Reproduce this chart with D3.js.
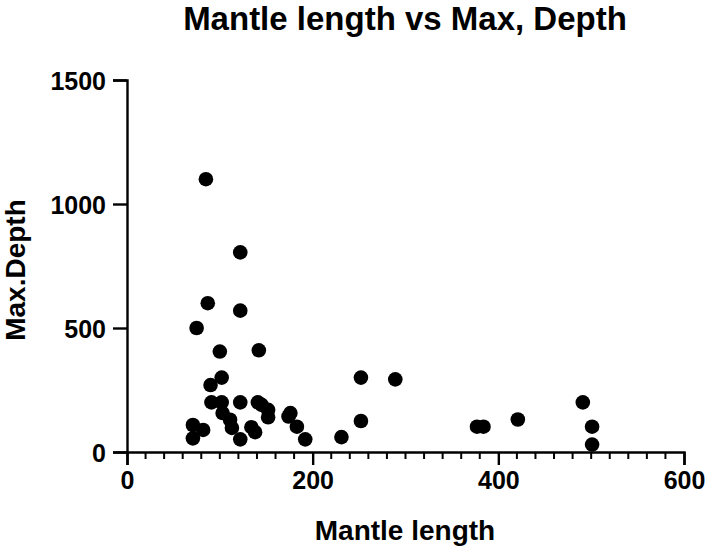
<!DOCTYPE html>
<html>
<head>
<meta charset="utf-8">
<script src="https://cdn.jsdelivr.net/npm/d3@7"></script>
<style>
  html, body { margin: 0; padding: 0; background: #fff; }
  svg text { font-family: "Liberation Sans", Arial, sans-serif; font-weight: bold; fill: #000; }
</style>
</head>
<body>
<div id="chart"></div>
<script>
// data
const mantleLength = [85, 122, 87, 122, 75, 100, 142, 102, 90,
  91, 102, 122, 141, 145, 152, 152, 103, 111, 113, 71, 82, 71,
  134, 138, 122, 174, 176, 183, 192, 231,
  252, 289, 252, 377, 384, 421, 491, 501, 501];
const maxDepth = [1100, 805, 600, 570, 500, 405, 410, 300, 270,
  200, 200, 200, 200, 190, 170, 140, 157, 130, 97, 109, 89, 55,
  100, 80, 51, 143, 157, 102, 51, 60,
  300, 293, 125, 102, 102, 131, 200, 102, 30];
const xTicks = [0, 200, 400, 600];
const yTicks = [0, 500, 1000, 1500];

const width = 708;
const height = 551;
const margin = { left: 127, right: 24, top: 80, bottom: 99 };

const svg = d3.select('#chart').append('svg')
  .attr('width', width)
  .attr('height', height);

const x = d3.scaleLinear().domain([0, 600]).range([margin.left, width - margin.right]);
const y = d3.scaleLinear().domain([0, 1500]).range([height - margin.bottom, margin.top]);

// 坐标轴
const xMinor = d3.range(0, 601, 20).filter((d) => d % 200 !== 0);
const xAxis = svg.append('g').attr('transform', `translate(0,${y(0)})`);
xAxis.call(d3.axisBottom(x).tickValues(xTicks).tickSize(13).tickPadding(6).tickFormat(d3.format('d')));
xAxis.selectAll('.minor')
  .data(xMinor)
  .enter()
  .append('line')
  .attr('class', 'minor')
  .attr('x1', (d) => x(d))
  .attr('x2', (d) => x(d))
  .attr('y1', 0)
  .attr('y2', 7)
  .attr('stroke', '#000')
  .attr('stroke-width', 2);

const yAxis = svg.append('g').attr('transform', `translate(${x(0)},0)`);
yAxis.call(d3.axisLeft(y).tickValues(yTicks).tickSize(14).tickPadding(7).tickFormat(d3.format('d')));

svg.selectAll('.domain').attr('stroke', '#000').attr('stroke-width', 2.4);
svg.selectAll('.tick line').attr('stroke', '#000').attr('stroke-width', 2.4);
svg.selectAll('.tick text').style('font-size', '25px').style('font-family', '"Liberation Sans", Arial, sans-serif')
  .style('font-weight', 'bold').attr('fill', '#000');
yAxis.selectAll('.tick text').attr('dy', '0.36em');

// 散点
svg.append('g').selectAll('circle')
  .data(mantleLength.map((d, i) => [d, maxDepth[i]]))
  .enter()
  .append('circle')
  .attr('cx', (d) => x(d[0]))
  .attr('cy', (d) => y(d[1]))
  .attr('r', 7.3)
  .attr('fill', '#000');

// 标题
svg.append('text')
  .attr('x', 405)
  .attr('y', 30)
  .attr('text-anchor', 'middle')
  .style('font-size', '33px')
  .text('Mantle length vs Max, Depth');

svg.append('text')
  .attr('x', 405)
  .attr('y', 540)
  .attr('text-anchor', 'middle')
  .style('font-size', '28px')
  .text('Mantle length');

svg.append('text')
  .attr('transform', 'translate(25,270) rotate(-90)')
  .attr('text-anchor', 'middle')
  .style('font-size', '28px')
  .text('Max.Depth');
</script>
</body>
</html>
